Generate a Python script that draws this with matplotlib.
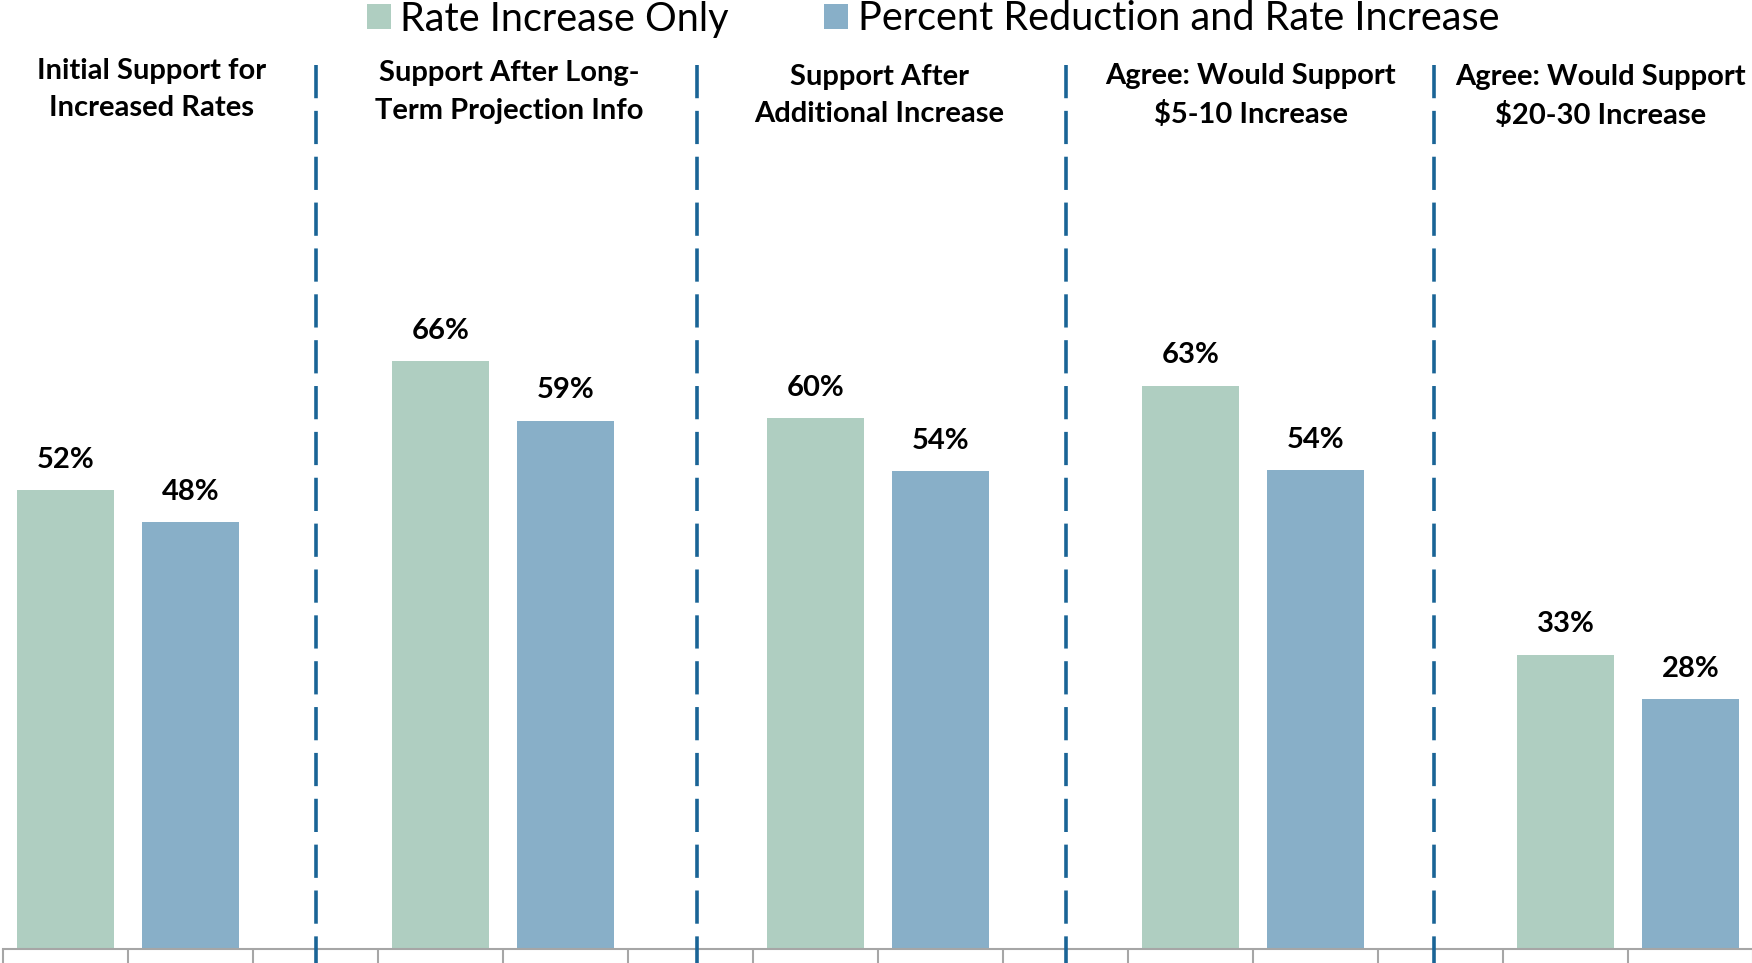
import matplotlib
matplotlib.use("Agg")
import matplotlib.pyplot as plt
import numpy as np

# ---- data ----
groups = ["Initial Support for\nIncreased Rates",
          "Support After Long-\nTerm Projection Info",
          "Support After\nAdditional Increase",
          "Agree: Would Support\n$5-10 Increase",
          "Agree: Would Support\n$20-30 Increase"]
series_names = ["Rate Increase Only", "Percent Reduction and Rate Increase"]
rate_only = [51.5, 66.0, 59.6, 63.2, 33.0]
reduction_and_rate = [47.9, 59.3, 53.6, 53.7, 28.0]

# ---- style ----
GREEN = "#AFCEC1"
BLUE = "#88AFC8"
DASH = "#1A6496"
GRAY = "#A6A6A6"
FONT = ["Lato", "DejaVu Sans"]
plt.rcParams["font.family"] = FONT

W, H = 1752, 963
fig = plt.figure(figsize=(W / 100, H / 100), dpi=100)
slot = 125.0
ax = fig.add_axes([3 / W, (H - 948.5) / H, 15 * slot / W, 890.3 / H])

n = len(groups)
x_green = np.arange(n) * 3
x_blue = x_green + 1
bw = 0.77
b1 = ax.bar(x_green, rate_only, width=bw, color=GREEN, label=series_names[0], zorder=2)
b2 = ax.bar(x_blue, reduction_and_rate, width=bw, color=BLUE, label=series_names[1], zorder=2)

for bars in (b1, b2):
    ax.bar_label(bars, labels=[f"{v + 0.001:.0f}%" for v in bars.datavalues], padding=12.5,
                 fontsize=21, fontweight="bold", color="black")

ax.set_xlim(-0.5, 3 * n - 0.5)
ax.set_ylim(0, 100)

# category-boundary tick marks
ax.set_xticks(np.arange(-0.5, 3 * n, 1.0))
ax.set_xticklabels([])
ax.tick_params(axis="x", direction="out", length=14, width=1.5, color=GRAY)
ax.set_yticks([])
for s in ("left", "right", "top"):
    ax.spines[s].set_visible(False)
ax.spines["bottom"].set_color(GRAY)
ax.spines["bottom"].set_linewidth(1.5)

# dashed separators in the empty slots
sep_x = [2.0, 5.05, 8.0, 10.95]
for xs in sep_x:
    ax.plot([xs, xs], [99.2, -5], color=DASH, lw=2.6,
            linestyle=(0, (9.2, 3.5)), clip_on=False, zorder=3)

# group titles
title_x = [0.69, 3.55, 6.51, 9.48, 12.28]
title_y = [96.5, 96.2, 95.8, 95.8, 95.7]
for t, tx, ty in zip(groups, title_x, title_y):
    ax.text(tx, ty, t, ha="center", va="center", fontsize=21,
            fontweight="bold", linespacing=1.53, color="black")

fig.legend(handles=[b1, b2], labels=series_names, loc="center",
           bbox_to_anchor=(933 / W, 1 - 19 / H), ncol=2, frameon=False,
           fontsize=28.5, handlelength=0.6, handleheight=0.6,
           handletextpad=0.25, columnspacing=2.4, borderpad=0, borderaxespad=0)

fig.savefig("out.png", dpi=100)
